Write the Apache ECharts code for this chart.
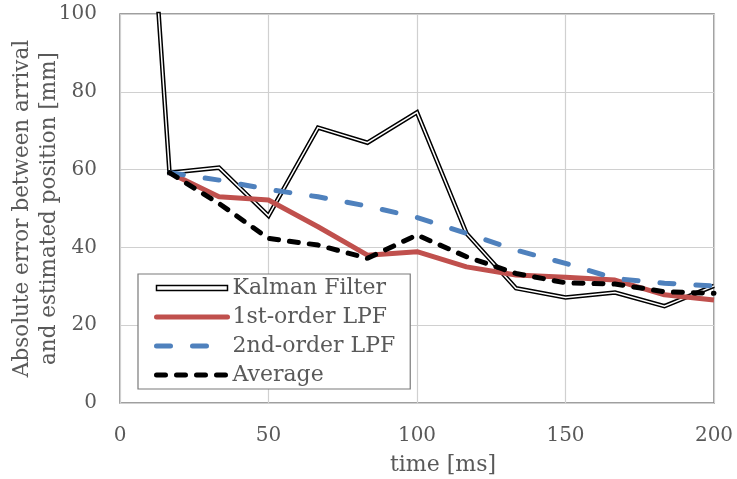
<!DOCTYPE html>
<html>
<head>
<meta charset="utf-8">
<script src="https://cdn.jsdelivr.net/npm/echarts@6/dist/echarts.min.js"></script>
<style>
html,body{margin:0;padding:0;background:#fff;}
#chart{width:737px;height:479px;}
</style>
</head>
<body>
<div id="chart"></div>
<script>
// time [ms]
var times = [0, 16.67, 33.33, 50, 66.67, 83.33, 100, 116.67, 133.33, 150, 166.67, 183.33, 200];
var kalman = [245, 59.2, 60.5, 48.1, 70.8, 66.9, 74.7, 43.6, 29.5, 27.1, 28.4, 24.9, 30.1];
var lpf1 = [null, 59.2, 53.0, 52.2, 45.3, 38.0, 38.9, 35.0, 32.9, 32.3, 31.6, 27.8, 26.5];
var lpf2 = [null, 59.2, 57.3, 54.9, 53.0, 50.6, 47.7, 43.6, 39.3, 35.9, 32.0, 30.8, 30.1];
var average = [null, 59.2, 51.3, 42.3, 40.6, 37.2, 43.2, 37.6, 33.3, 30.9, 30.6, 28.6, 28.2];
var seriesNames = ['Kalman Filter', '1st-order LPF', '2nd-order LPF', 'Average'];
var xTitle = 'time [ms]';
var yTitle = 'Absolute error between arrival\nand estimated position [mm]';

function pairs(vals) {
  var out = [];
  for (var i = 0; i < times.length; i++) {
    if (vals[i] !== null) out.push([times[i], vals[i]]);
  }
  return out;
}

var FONT = 'DejaVu Serif';
var TXT = '#595959';
var hideSym = {color: 'rgba(0,0,0,0)', borderWidth: 0, opacity: 0};
var BLUE_DASH = [14, 22];
var BLACK_DASH = [9, 11];

var chart = echarts.init(document.getElementById('chart'), null, {renderer: 'canvas'});
chart.setOption({
  animation: false,
  backgroundColor: '#fff',
  textStyle: {fontFamily: FONT},
  grid: {
    left: 120, right: 23, top: 14, bottom: 76,
    containLabel: false, outerBoundsMode: 'none',
    show: true, borderColor: '#808080', borderWidth: 1.5, backgroundColor: 'transparent'
  },
  xAxis: {
    type: 'value', min: 0, max: 200, interval: 50,
    name: xTitle, nameLocation: 'middle', nameGap: 51, nameMoveOverlap: false,
    nameTextStyle: {fontFamily: FONT, fontSize: 22, color: TXT, padding: [0, 0, 0, 52]},
    axisLine: {show: false},
    axisTick: {show: false},
    axisLabel: {fontFamily: FONT, fontSize: 20, color: TXT, margin: 23},
    splitLine: {show: true, lineStyle: {color: '#d0d0d0', width: 1.2}}
  },
  yAxis: {
    type: 'value', min: 0, max: 100, interval: 20,
    name: yTitle, nameLocation: 'middle', nameGap: 57, nameRotate: 90, nameMoveOverlap: false,
    nameTextStyle: {fontFamily: FONT, fontSize: 21.5, color: TXT, lineHeight: 27, align: 'center'},
    axisLine: {show: false},
    axisTick: {show: false},
    axisLabel: {fontFamily: FONT, fontSize: 20, color: TXT, margin: 23},
    splitLine: {show: true, lineStyle: {color: '#d0d0d0', width: 1.2}}
  },
  legend: {
    orient: 'vertical',
    left: 138, top: 274,
    padding: [3, 15, 3, 16],
    backgroundColor: '#fff',
    borderColor: '#7a7a7a', borderWidth: 1.2, borderRadius: 0,
    itemWidth: 71, itemHeight: 14, itemGap: 7,
    textStyle: {fontFamily: FONT, fontSize: 22, color: TXT},
    data: [
      {name: seriesNames[0], icon: 'path://M0,0H71V5H0Z', itemStyle: {color: '#fff', borderColor: '#000', borderWidth: 1.5}},
      {name: seriesNames[1], itemStyle: hideSym, lineStyle: {width: 5, color: '#c0504d', cap: 'round'}},
      {name: seriesNames[2], itemStyle: hideSym, lineStyle: {width: 5, color: '#4f81bd', type: BLUE_DASH, cap: 'round'}},
      {name: seriesNames[3], itemStyle: hideSym, lineStyle: {width: 5, color: '#000', type: BLACK_DASH, cap: 'round'}}
    ]
  },
  series: [
    {
      name: seriesNames[0], type: 'line', symbol: 'none', z: 2,
      data: pairs(kalman),
      lineStyle: {color: '#000', width: 4.5, join: 'miter'},
      itemStyle: {color: '#000'}
    },
    {
      name: seriesNames[0] + ' ', type: 'line', symbol: 'none', z: 3,
      data: pairs(kalman),
      lineStyle: {color: '#fff', width: 1.5, join: 'miter'},
      itemStyle: {color: '#fff'}
    },
    {
      name: seriesNames[1], type: 'line', symbol: 'none', z: 4,
      data: pairs(lpf1),
      lineStyle: {color: '#c0504d', width: 5},
      itemStyle: {color: '#c0504d'}
    },
    {
      name: seriesNames[2], type: 'line', symbol: 'none', z: 5,
      data: pairs(lpf2),
      lineStyle: {color: '#4f81bd', width: 5, type: BLUE_DASH, cap: 'round'},
      itemStyle: {color: '#4f81bd'}
    },
    {
      name: seriesNames[3], type: 'line', symbol: 'none', z: 6,
      data: pairs(average),
      lineStyle: {color: '#000', width: 5, type: BLACK_DASH, cap: 'round'},
      itemStyle: {color: '#000'}
    }
  ]
});
</script>
</body>
</html>
